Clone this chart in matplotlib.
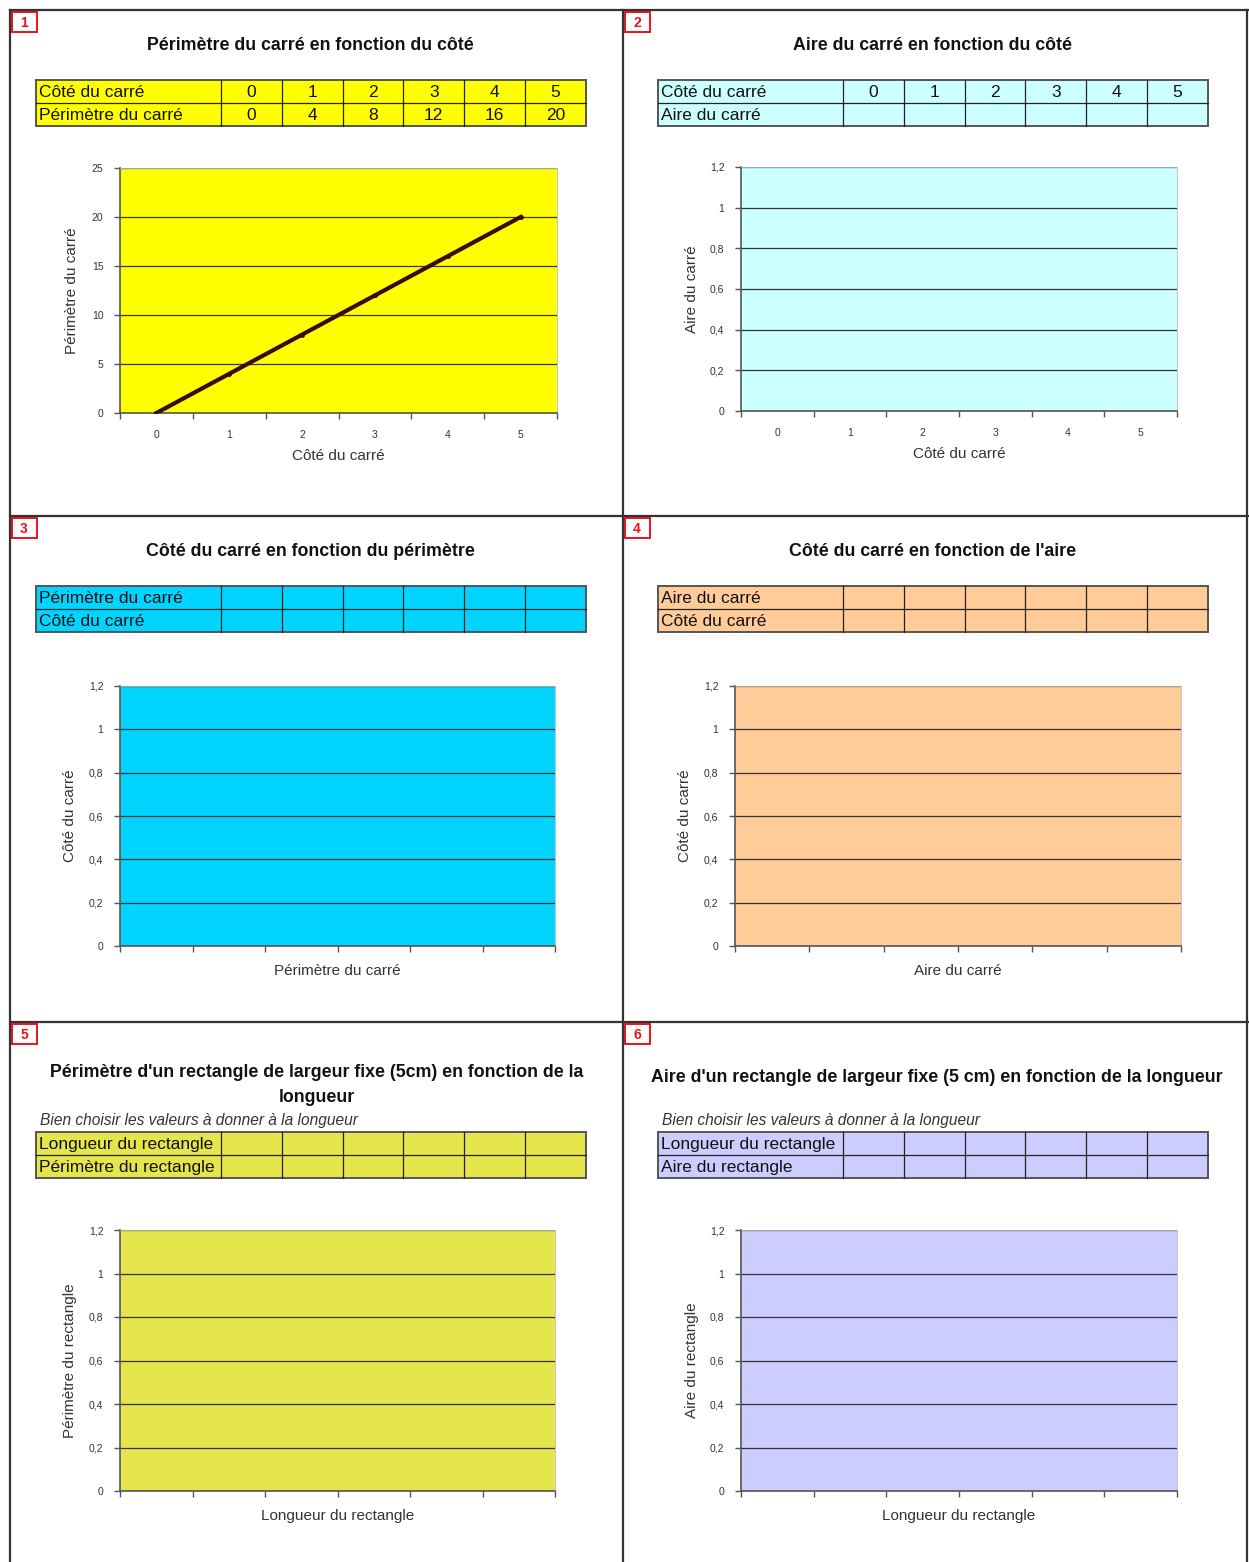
import matplotlib
matplotlib.use('Agg')
import matplotlib.pyplot as plt
from matplotlib.patches import Rectangle
from matplotlib.ticker import FuncFormatter, FixedLocator

plt.rcParams['font.family'] = ['Liberation Sans', 'DejaVu Sans']

W, H = 1249, 1562

# data
cote = [0, 1, 2, 3, 4, 5]
perimetre = [0, 4, 8, 12, 16, 20]
cote_labels = ['0', '1', '2', '3', '4', '5']
perim_labels = ['0', '4', '8', '12', '16', '20']
empty_row = ['', '', '', '', '', '']

titles = [
    "Périmètre du carré en fonction du côté",
    "Aire du carré en fonction du côté",
    "Côté du carré en fonction du périmètre",
    "Côté du carré en fonction de l'aire",
    "Périmètre d'un rectangle de largeur fixe (5cm) en fonction de la\nlongueur",
    "Aire d'un rectangle de largeur fixe (5 cm) en fonction de la longueur",
]
row_names = [
    ("Côté du carré", "Périmètre du carré"),
    ("Côté du carré", "Aire du carré"),
    ("Périmètre du carré", "Côté du carré"),
    ("Aire du carré", "Côté du carré"),
    ("Longueur du rectangle", "Périmètre du rectangle"),
    ("Longueur du rectangle", "Aire du rectangle"),
]
row_values = [
    (cote_labels, perim_labels),
    (cote_labels, empty_row),
    (empty_row, empty_row),
    (empty_row, empty_row),
    (empty_row, empty_row),
    (empty_row, empty_row),
]
xlabels = ["Côté du carré", "Côté du carré", "Périmètre du carré", "Aire du carré",
           "Longueur du rectangle", "Longueur du rectangle"]
ylabels = ["Périmètre du carré", "Aire du carré", "Côté du carré", "Côté du carré",
           "Périmètre du rectangle", "Aire du rectangle"]
colors = ['#FFFF00', '#CCFFFF', '#00D4FF', '#FFCC99', '#E5E54C', '#CCCCFF']
hint = "Bien choisir les valeurs à donner à la longueur"

# layout in pixels
title_pos = [(310, 45), (933, 45), (310, 552), (933, 552), (317, 1085), (937, 1077)]
table_box = [(36, 80), (658, 80), (36, 586), (658, 586), (36, 1132), (658, 1132)]
axes_box = [(120, 168, 557, 413), (741, 167, 1177, 411), (120, 686, 555, 946),
            (735, 686, 1181, 946), (120, 1230, 555, 1491), (741, 1230, 1177, 1491)]
ylab_x = [72, 692, 70, 685, 70, 692]
panel_origin = [(10, 10), (623, 10), (10, 516), (623, 516), (10, 1022), (623, 1022)]

fig = plt.figure(figsize=(W / 100, H / 100), dpi=100)
bg = fig.add_axes([0, 0, 1, 1])
bg.set_xlim(0, W)
bg.set_ylim(H, 0)
bg.axis('off')

# frame lines
for x in [10, 623, 1247]:
    bg.plot([x, x], [10, H], color='#333333', lw=1.6)
for y in [10, 516, 1022]:
    bg.plot([10, W], [y, y], color='#333333', lw=1.6)


def draw_table(x0, y0, names, values, color):
    first_w, cell_w, row_h = 185, 60.8, 23
    total_w = first_w + 6 * cell_w
    bg.add_patch(Rectangle((x0, y0), total_w, 2 * row_h, facecolor=color,
                           edgecolor='#555555', lw=1.4))
    bg.plot([x0, x0 + total_w], [y0 + row_h, y0 + row_h], color='#222222', lw=0.9)
    for i in range(6):
        cx = x0 + first_w + i * cell_w
        bg.plot([cx, cx], [y0, y0 + 2 * row_h], color='#222222', lw=0.9)
    for r in range(2):
        yc = y0 + r * row_h + row_h / 2 + 1
        bg.text(x0 + 3, yc, names[r], fontsize=12.5, va='center', ha='left', color='#111111')
        for i, v in enumerate(values[r]):
            cx = x0 + first_w + (i + 0.5) * cell_w
            bg.text(cx, yc, v, fontsize=12.5, va='center', ha='center', color='#111111')


fmt = FuncFormatter(lambda v, _: f'{v:g}'.replace('.', ','))

for k in range(6):
    ox, oy = panel_origin[k]
    bg.add_patch(Rectangle((ox + 2, oy + 2), 25, 20, facecolor='white',
                           edgecolor='#E8141B', lw=1.4))
    bg.text(ox + 14, oy + 13, str(k + 1), color='#E8141B', fontsize=10,
            fontweight='bold', ha='center', va='center')

    tx, ty = title_pos[k]
    bg.text(tx, ty, titles[k], fontsize=12.8, fontweight='bold', ha='center',
            va='center', color='#111111', linespacing=1.6)

    if k >= 4:
        bg.text(table_box[k][0] + 4, 1120, hint, fontsize=11.2, style='italic',
                ha='left', va='center', color='#333333')

    draw_table(table_box[k][0], table_box[k][1], row_names[k], row_values[k], colors[k])

    x0, y0, x1, y1 = axes_box[k]
    ax = fig.add_axes([x0 / W, 1 - y1 / H, (x1 - x0) / W, (y1 - y0) / H])
    ax.set_facecolor(colors[k])
    ax.set_xlim(-0.5, 5.5)
    if k == 0:
        ax.plot(cote, perimetre, color='#3B0A0A', lw=3, marker='o', ms=2.5, zorder=3)
        ax.set_ylim(0, 25)
        ax.set_yticks([0, 5, 10, 15, 20, 25])
    else:
        ax.set_ylim(0, 1.2)
        ax.set_yticks([0, 0.2, 0.4, 0.6, 0.8, 1.0, 1.2])
    ax.yaxis.set_major_formatter(fmt)
    ax.grid(axis='y', color='#333333', lw=0.9)
    ax.set_axisbelow(True)

    ax.set_xticks(cote)
    if k < 2:
        ax.set_xticklabels(cote_labels)
    else:
        ax.set_xticklabels([])
    ax.xaxis.set_minor_locator(FixedLocator([-0.5, 0.5, 1.5, 2.5, 3.5, 4.5, 5.5]))
    ax.tick_params(axis='x', which='major', length=0, pad=12, labelsize=7.5,
                   labelcolor='#333333')
    ax.tick_params(axis='x', which='minor', length=4, color='#555555', width=1)
    ax.tick_params(axis='y', length=4, color='#555555', width=1, labelsize=7.5,
                   labelcolor='#333333', pad=8)

    for side in ['left', 'bottom']:
        ax.spines[side].set_color('#555555')
        ax.spines[side].set_linewidth(1.2)
    for side in ['top', 'right']:
        ax.spines[side].set_color('#BBBBBB')
        ax.spines[side].set_linewidth(0.6)

    ax.set_xlabel(xlabels[k], fontsize=11, color='#333333')
    ax.set_ylabel(ylabels[k], fontsize=11, color='#333333')
    xl_y = 43 if k < 2 else 25
    ax.xaxis.set_label_coords(0.5, -xl_y / (y1 - y0))
    ax.yaxis.set_label_coords((ylab_x[k] - x0) / (x1 - x0), 0.5)
    ax.xaxis.label.set_va('center')
    ax.yaxis.label.set_va('center')

fig.savefig('out.png', dpi=100)
